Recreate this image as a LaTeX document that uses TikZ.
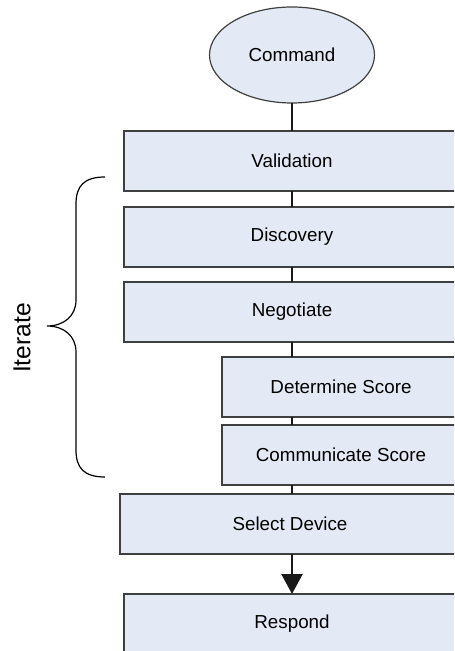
\documentclass[tikz,border=0pt]{standalone}
\usepackage{fontspec}
\setmainfont{Liberation Sans}
\usetikzlibrary{arrows.meta,positioning,shapes.geometric}
\definecolor{boxfill}{RGB}{228,234,245}
\tikzset{
    %Define style for the process boxes
    stepbox/.style={
           rectangle,
           draw=black!75,
           line width=0.6pt,
           fill=boxfill,
           minimum height=30pt,
           inner sep=0pt,
           outer sep=0pt,
           font=\fontsize{9.4}{11}\selectfont,},
    %Define style for the start ellipse
    startnode/.style={
           ellipse,
           draw=black!75,
           line width=0.6pt,
           fill=boxfill,
           minimum width=82.5pt,
           minimum height=48pt,
           inner sep=0pt,
           outer sep=0pt,
           font=\fontsize{9.4}{11}\selectfont,},
    %Define style for connectors
    link/.style={
           line width=1.1pt,
           black!90,}
}

\begin{document}
\begin{tikzpicture}[x=1pt,y=1pt]
 \useasboundingbox (0,0) rectangle (227,-325.5);
 \clip (0,0) rectangle (227,-325.5);

 %nodes
 \node[startnode] (cmd) at (146,-27.5) {Command};
 \node[stepbox, minimum width=168pt, below=14pt of cmd] (valid) {Validation};
 \node[stepbox, minimum width=168pt, below=8pt of valid] (disc) {Discovery};
 \node[stepbox, minimum width=168pt, below=7.5pt of disc] (neg) {Negotiate};
 \node[stepbox, minimum width=119pt, below=7.5pt of neg.south east, anchor=north east] (det) {Determine Score};
 \node[stepbox, minimum width=119pt, below=4pt of det] (comm) {Communicate Score};
 \node[stepbox, minimum width=170pt, below=4.5pt of comm.south east, anchor=north east] (sel) {Select Device};
 \node[stepbox, minimum width=168pt, below=20pt of sel.south east, anchor=north east] (resp) {Respond};

 %connectors
 \path (cmd) edge[link] (valid);
 \path (valid) edge[link] (disc);
 \path (disc) edge[link] (neg);
 \draw[link] (neg.south) -- (neg.south |- det.north);
 \draw[link] (det.south -| cmd) -- (comm.north -| cmd);
 \draw[link] (comm.south -| cmd) -- (sel.north -| cmd);
 \draw[link, -{Triangle[width=10.5pt,length=10pt]}] (sel.south -| cmd) -- (resp.north -| cmd);

 %brace over the repeated steps
 \draw[line width=0.6pt] (52.5,-88.5) .. controls (42,-88.5) and (38,-93) .. (38,-102)
   -- (38,-150) .. controls (38,-158) and (32,-163) .. (23.5,-163)
   .. controls (32,-163) and (38,-168) .. (38,-176)
   -- (38,-225) .. controls (38,-234) and (42,-238.5) .. (52.5,-238.5);
 \node[rotate=90, font=\fontsize{12.3}{14}\selectfont] (iter) at (11,-169) {Iterate};

\end{tikzpicture}
\end{document}
